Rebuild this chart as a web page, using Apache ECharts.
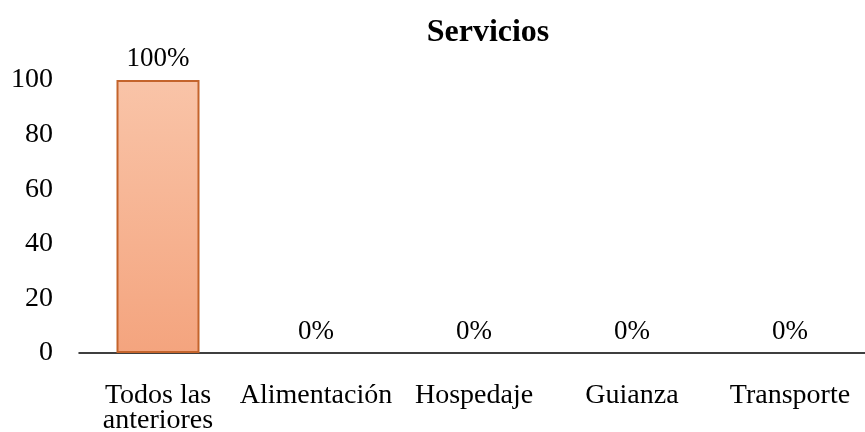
<!DOCTYPE html>
<html>
<head>
<meta charset="utf-8">
<script src="https://cdn.jsdelivr.net/npm/echarts@6/dist/echarts.min.js"></script>
<style>
  html, body { margin: 0; padding: 0; background: #fff; }
  #main { width: 865px; height: 432px; }
</style>
</head>
<body>
<div id="main"></div>
<script>
var myChart = echarts.init(document.getElementById('main'));

// datos
var categories = ['Todos las\nanteriores', 'Alimentación', 'Hospedaje', 'Guianza', 'Transporte'];
var values = [100, 0, 0, 0, 0];
var yTicks = [0, 20, 40, 60, 80, 100];

var serif = '"Liberation Serif", "Times New Roman", serif';

// zero bars get no border so no stray line shows
var barData = values.map(function (v) {
    return v === 0 ? { value: v, itemStyle: { borderWidth: 0 } } : v;
});

option = {
    animation: false,
    title: {
        text: 'Servicios',
        left: 483,
        top: 12,
        textAlign: 'center',
        textStyle: {
            fontFamily: serif,
            fontSize: 32,
            fontWeight: 'bold',
            color: '#000'
        }
    },
    grid: {
        left: 79,
        right: -4,
        top: 80,
        bottom: 79,
        outerBoundsMode: 'none'
    },
    xAxis: {
        type: 'category',
        data: categories,
        axisLine: { lineStyle: { color: '#000', width: 1.5 } },
        axisTick: { show: false },
        axisLabel: {
            color: '#000',
            fontFamily: serif,
            fontSize: 28,
            margin: 30,
            lineHeight: 25,
            interval: 0
        }
    },
    yAxis: {
        type: 'value',
        min: yTicks[0],
        max: yTicks[yTicks.length - 1],
        interval: 20,
        axisLine: { show: false },
        axisTick: { show: false },
        splitLine: { show: false },
        axisLabel: {
            color: '#000',
            fontFamily: serif,
            fontSize: 28,
            margin: 26
        }
    },
    series: [{
        name: 'Servicios',
        type: 'bar',
        data: barData,
        barWidth: 83,
        itemStyle: {
            color: new echarts.graphic.LinearGradient(0, 0, 0, 1, [
                { offset: 0, color: '#F9C4A8' },
                { offset: 1, color: '#F4A47E' }
            ]),
            borderColor: '#C4642C',
            borderWidth: 2
        },
        label: {
            show: true,
            position: 'top',
            distance: 8,
            formatter: '{c}%',
            color: '#000',
            fontFamily: serif,
            fontSize: 27
        }
    }]
};

myChart.setOption(option);
</script>
</body>
</html>
